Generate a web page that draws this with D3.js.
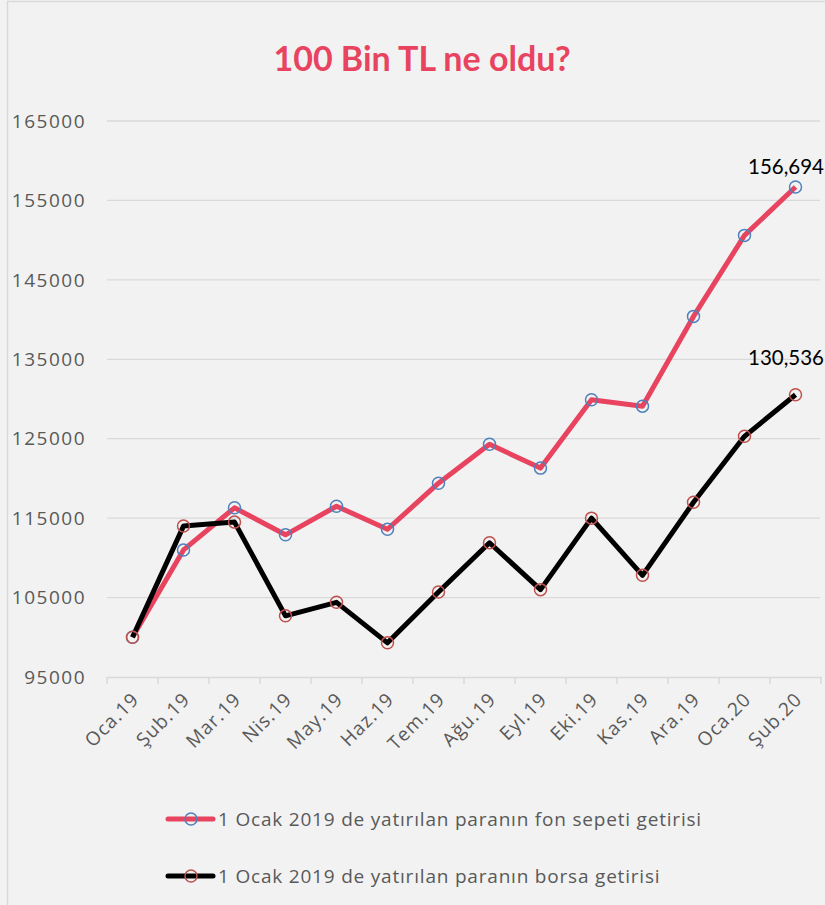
<!DOCTYPE html>
<html>
<head>
<meta charset="utf-8">
<script src="https://cdn.jsdelivr.net/npm/d3@7"></script>
<style>
  body { margin: 0; background: #fff; }
  svg { display: block; }
</style>
</head>
<body>
<div id="chart"></div>
<script>
// Data
const months = ["Oca.19", "Şub.19", "Mar.19", "Nis.19", "May.19", "Haz.19", "Tem.19",
                "Ağu.19", "Eyl.19", "Eki.19", "Kas.19", "Ara.19", "Oca.20", "Şub.20"];
const fonValues = [100000, 111000, 116300, 112900, 116500, 113600, 119400,
                   124300, 121300, 129900, 129100, 140400, 150600, 156694];
const borsaValues = [100000, 114000, 114500, 102700, 104400, 99300, 105700,
                     111900, 106000, 115000, 107800, 117000, 125300, 130536];
const yTicks = [95000, 105000, 115000, 125000, 135000, 145000, 155000, 165000];
const seriesNames = ["1 Ocak 2019 de yatırılan paranın fon sepeti getirisi",
                     "1 Ocak 2019 de yatırılan paranın borsa getirisi"];

const W = 825, H = 905;
const margin = {top: 121, right: 4, bottom: 228, left: 107};
const width = W - margin.left - margin.right,
      height = H - margin.top - margin.bottom;

const pink = "#e8435f";
const labelColor = "#595959";
const gridColor = "#d9d9d9";
const font = "'Open Sans', sans-serif";

const svg = d3.select("#chart").append("svg")
    .attr("width", W)
    .attr("height", H);

// background + border
svg.append("rect").attr("width", W).attr("height", H).attr("fill", "#f2f2f2");
svg.append("rect")
    .attr("x", 7.5).attr("y", 1.5)
    .attr("width", W).attr("height", H)
    .attr("fill", "none").attr("stroke", gridColor).attr("stroke-width", 1.5);

// title
svg.append("text")
    .attr("x", 422).attr("y", 71)
    .attr("text-anchor", "middle")
    .attr("font-family", "Lato, 'Open Sans', sans-serif")
    .attr("font-weight", "bold")
    .attr("font-size", 34)
    .attr("fill", pink)
    .text("100 Bin TL ne oldu?");

const g = svg.append("g")
    .attr("transform", `translate(${margin.left},${margin.top})`);

const x = d3.scaleBand().domain(months).range([0, 714]);
const y = d3.scaleLinear().domain([95000, 165000]).range([height, 0]);
const cx = i => x(months[i]) + x.bandwidth() / 2;

// gridlines
g.selectAll(".grid")
  .data(yTicks.slice(1))
  .join("line")
    .attr("x1", 0).attr("x2", 713)
    .attr("y1", d => y(d)).attr("y2", d => y(d))
    .attr("stroke", gridColor).attr("stroke-width", 1.3);

// y labels
g.selectAll(".ylab")
  .data(yTicks)
  .join("text")
    .attr("x", -21)
    .attr("y", d => y(d))
    .attr("dy", "0.35em")
    .attr("text-anchor", "end")
    .attr("font-family", font)
    .attr("font-size", 19)
    .attr("letter-spacing", 1.5)
    .attr("fill", labelColor)
    .text(d => d);

// x axis
const xAxis = g.append("g")
    .attr("transform", `translate(0,${height})`)
    .call(d3.axisBottom(x).tickSize(0).tickFormat(""));
xAxis.select(".domain").attr("stroke", gridColor).attr("stroke-width", 1.5);
g.selectAll(".xtick")
  .data(d3.range(months.length + 1))
  .join("line")
    .attr("x1", i => i * x.step()).attr("x2", i => i * x.step())
    .attr("y1", height).attr("y2", height + 7)
    .attr("stroke", gridColor).attr("stroke-width", 1.5);

g.selectAll(".xlab")
  .data(months)
  .join("text")
    .attr("transform", d => `translate(${x(d) + x.bandwidth() / 2 + 3},${height + 19}) rotate(-45)`)
    .attr("text-anchor", "end")
    .attr("dy", "0.35em")
    .attr("font-family", font)
    .attr("font-size", 19)
    .attr("letter-spacing", 1)
    .attr("fill", labelColor)
    .text(d => d);

// lines
const line = d3.line()
    .x((d, i) => cx(i))
    .y(d => y(d));

const series = [
  {name: seriesNames[0], values: fonValues, color: pink, marker: "#4f81bd", labelDy: -13},
  {name: seriesNames[1], values: borsaValues, color: "#000", marker: "#c0504d", labelDy: -30}
];

series.forEach(s => {
  g.append("path")
    .datum(s.values)
    .attr("fill", "none")
    .attr("stroke", s.color)
    .attr("stroke-width", 5)
    .attr("stroke-linejoin", "round")
    .attr("d", line);
});

series.forEach(s => {
  g.selectAll(null)
    .data(s.values)
    .join("circle")
      .attr("cx", (d, i) => cx(i))
      .attr("cy", d => y(d))
      .attr("r", 6)
      .attr("fill", "none")
      .attr("stroke", s.marker)
      .attr("stroke-width", 1.5);
});

// end labels
series.forEach(s => {
  const last = s.values.length - 1;
  g.append("text")
    .attr("x", W - margin.left - 1)
    .attr("y", y(s.values[last]) + s.labelDy)
    .attr("text-anchor", "end")
    .attr("font-family", "Lato, 'Open Sans', sans-serif")
    .attr("font-size", 20.5)
    .attr("fill", "#000")
    .text(d3.format(",")(s.values[last]));
});

// legend
const legend = svg.append("g");
series.forEach((s, i) => {
  const ly = 819 + i * 57;
  legend.append("line")
    .attr("x1", 168).attr("x2", 213)
    .attr("y1", ly).attr("y2", ly)
    .attr("stroke", s.color).attr("stroke-width", 5)
    .attr("stroke-linecap", "round");
  legend.append("circle")
    .attr("cx", 191).attr("cy", ly).attr("r", 6)
    .attr("fill", "none").attr("stroke", s.marker).attr("stroke-width", 1.5);
  legend.append("text")
    .attr("x", 218).attr("y", ly)
    .attr("dy", "0.35em")
    .attr("font-family", font)
    .attr("font-size", 19)
    .attr("letter-spacing", 0.8)
    .attr("fill", labelColor)
    .text(s.name);
});
</script>
</body>
</html>
